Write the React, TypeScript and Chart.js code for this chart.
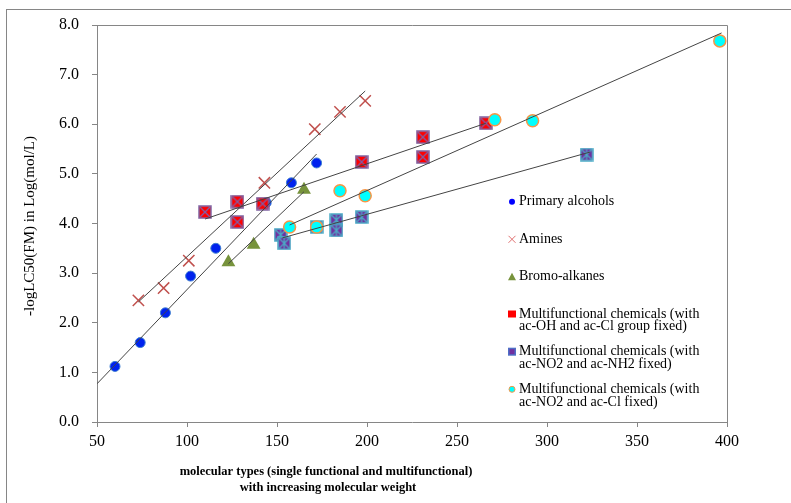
import React, { useEffect, useRef } from "react";
import { Chart, registerables } from "chart.js";
Chart.register(...registerables);

// ---- data ----
const alcoholX = [60, 74, 88, 102, 116, 144, 158, 172];
const alcoholY = [1.12, 1.6, 2.2, 2.94, 3.5, 4.42, 4.82, 5.22];
const amineX = [73, 87, 101, 143, 171, 185, 199];
const amineY = [2.45, 2.7, 3.25, 4.82, 5.9, 6.25, 6.47];
const bromoX = [123, 137, 165];
const bromoY = [3.22, 3.57, 4.68];
const ohClX = [110, 128, 128, 142, 197, 231, 231, 266];
const ohClY = [4.23, 4.44, 4.03, 4.4, 5.24, 5.74, 5.34, 6.02];
const no2nh2X = [152, 154, 172, 183, 183, 197, 322];
const no2nh2Y = [3.77, 3.6, 3.93, 4.07, 3.86, 4.13, 5.39];
const no2ClX = [157, 172, 185, 199, 271, 292, 396];
const no2ClY = [3.93, 3.93, 4.66, 4.56, 6.09, 6.07, 7.68];

// trend line end points
const alcoholFitX = [50, 172];
const alcoholFitY = [0.77, 5.4];
const amineFitX = [73, 199];
const amineFitY = [2.42, 6.67];
const bromoFitX = [123, 165];
const bromoFitY = [3.19, 4.64];
const ohClFitX = [110, 266];
const ohClFitY = [4.09, 6.02];
const no2nh2FitX = [153, 324];
const no2nh2FitY = [3.71, 5.44];
const no2ClFitX = [157, 397];
const no2ClFitY = [3.97, 7.84];

const legendLabels = [
  ["Primary alcohols"],
  ["Amines"],
  ["Bromo-alkanes"],
  ["Multifunctional chemicals (with", "ac-OH and ac-Cl group fixed)"],
  ["Multifunctional chemicals (with", "ac-NO2 and ac-NH2 fixed)"],
  ["Multifunctional chemicals (with", "ac-NO2 and ac-Cl fixed)"],
];
const xTitle = ["molecular types (single functional and multifunctional)", "with increasing molecular weight"];
const yTitle = "-logLC50(FM) in Log(mol/L)";

const pts = (xs: number[], ys: number[]) => xs.map((x, i) => ({ x, y: ys[i] }));

const SERIF = "'Liberation Serif', 'Times New Roman', serif";
const AXIS = "#868686";

function squareImg(fill: string, stroke: string, xColor: string, star: boolean) {
  const c = document.createElement("canvas");
  c.width = 14;
  c.height = 14;
  const g = c.getContext("2d")!;
  g.fillStyle = fill;
  g.fillRect(1, 1, 12, 12);
  g.strokeStyle = stroke;
  g.lineWidth = 1.5;
  g.strokeRect(1, 1, 12, 12);
  g.strokeStyle = xColor;
  g.lineWidth = 1.3;
  g.beginPath();
  g.moveTo(2, 2);
  g.lineTo(12, 12);
  g.moveTo(12, 2);
  g.lineTo(2, 12);
  if (star) {
    g.moveTo(7, 2);
    g.lineTo(7, 12);
  }
  g.stroke();
  return c;
}

const decoPlugin = {
  id: "deco",
  afterDraw(chart: any) {
    const ctx = chart.ctx as CanvasRenderingContext2D;
    const a = chart.chartArea;
    ctx.save();
    // outer frame
    ctx.strokeStyle = AXIS;
    ctx.lineWidth = 1;
    ctx.strokeRect(6.5, 9.5, 1000, 1000);
    // plot box
    ctx.beginPath();
    ctx.moveTo(a.left, a.top + 0.5);
    ctx.lineTo(a.right + 0.5, a.top + 0.5);
    ctx.lineTo(a.right + 0.5, a.bottom);
    ctx.stroke();

    // x title
    ctx.fillStyle = "#000";
    ctx.textAlign = "center";
    ctx.textBaseline = "middle";
    ctx.font = `bold 12.5px ${SERIF}`;
    ctx.fillText(xTitle[0], 326, 472);
    ctx.fillText(xTitle[1], 328, 488);

    // y title
    ctx.save();
    ctx.translate(30, 226);
    ctx.rotate(-Math.PI / 2);
    ctx.font = `15px ${SERIF}`;
    ctx.fillText(yTitle, 0, 0);
    ctx.restore();

    // legend
    const rows = [201.7, 239.3, 276.7, 314, 351.7, 389.3];
    const mx = 512;
    ctx.textAlign = "left";
    ctx.font = `14px ${SERIF}`;
    rows.forEach((y, i) => {
      legendLabels[i].forEach((t, j) => ctx.fillText(t, 519, y + j * 12.6));
      ctx.beginPath();
      if (i === 0) {
        ctx.fillStyle = "#0000ff";
        ctx.arc(mx, y, 3, 0, Math.PI * 2);
        ctx.fill();
      } else if (i === 1) {
        ctx.strokeStyle = "#e07070";
        ctx.lineWidth = 1;
        ctx.moveTo(mx - 3.5, y - 3.5);
        ctx.lineTo(mx + 3.5, y + 3.5);
        ctx.moveTo(mx + 3.5, y - 3.5);
        ctx.lineTo(mx - 3.5, y + 3.5);
        ctx.stroke();
      } else if (i === 2) {
        ctx.fillStyle = "#77933c";
        ctx.moveTo(mx, y - 4);
        ctx.lineTo(mx + 4, y + 3.5);
        ctx.lineTo(mx - 4, y + 3.5);
        ctx.closePath();
        ctx.fill();
      } else if (i === 3) {
        ctx.fillStyle = "#ff0000";
        ctx.fillRect(mx - 4, y - 3.5, 8, 7);
      } else if (i === 4) {
        ctx.fillStyle = "#4f6fc6";
        ctx.fillRect(mx - 4, y - 4, 8, 8);
        ctx.fillStyle = "#7030a0";
        ctx.fillRect(mx - 2.5, y - 2.5, 5, 5);
      } else {
        ctx.fillStyle = "#00ffff";
        ctx.strokeStyle = "#f79646";
        ctx.lineWidth = 1;
        ctx.arc(mx, y, 3, 0, Math.PI * 2);
        ctx.fill();
        ctx.stroke();
      }
      ctx.fillStyle = "#000";
    });
    ctx.restore();
  },
};

export default function App() {
  const ref = useRef<HTMLCanvasElement>(null);
  useEffect(() => {
    const redSq = squareImg("#ff0000", "#8064a2", "#7f5fa8", false);
    const purSq = squareImg("#7030a0", "#4bacc6", "#4bacc6", true);
    const line = (xs: number[], ys: number[]) => ({
      type: "line" as const,
      data: pts(xs, ys),
      showLine: true,
      borderColor: "#444444",
      borderWidth: 1,
      pointRadius: 0,
      fill: false,
      order: 0,
    });
    const chart = new Chart(ref.current!, {
      type: "scatter",
      data: {
        datasets: [
          line(alcoholFitX, alcoholFitY),
          line(amineFitX, amineFitY),
          line(bromoFitX, bromoFitY),
          line(ohClFitX, ohClFitY),
          line(no2nh2FitX, no2nh2FitY),
          line(no2ClFitX, no2ClFitY),
          {
            label: "Multifunctional chemicals (with ac-NO2 and ac-Cl fixed)",
            data: pts(no2ClX, no2ClY),
            pointStyle: "circle",
            pointRadius: 6,
            backgroundColor: "#00ffff",
            borderColor: "#f79646",
            borderWidth: 1.5,
            order: 1,
          } as any,
          {
            label: "Multifunctional chemicals (with ac-NO2 and ac-NH2 fixed)",
            data: pts(no2nh2X, no2nh2Y),
            pointStyle: purSq,
            order: 2,
          } as any,
          {
            label: "Multifunctional chemicals (with ac-OH and ac-Cl group fixed)",
            data: pts(ohClX, ohClY),
            pointStyle: redSq,
            order: 3,
          } as any,
          {
            label: "Bromo-alkanes",
            data: pts(bromoX, bromoY),
            pointStyle: "triangle",
            pointRadius: 8,
            backgroundColor: "#77933c",
            borderColor: "#77933c",
            borderWidth: 0,
            order: 4,
          } as any,
          {
            label: "Amines",
            data: pts(amineX, amineY),
            pointStyle: "crossRot",
            pointRadius: 8,
            borderColor: "#c0504d",
            borderWidth: 1.5,
            order: 5,
          } as any,
          {
            label: "Primary alcohols",
            data: pts(alcoholX, alcoholY),
            pointStyle: "circle",
            pointRadius: 5,
            backgroundColor: "#0022ee",
            borderColor: "#3f7fd0",
            borderWidth: 1,
            order: 6,
          } as any,
        ],
      },
      options: {
        animation: false,
        responsive: false,
        devicePixelRatio: 1,
        layout: { padding: { top: 25, right: 64, left: 0, bottom: 0 } },
        plugins: { legend: { display: false }, tooltip: { enabled: false } },
        scales: {
          x: {
            type: "linear",
            min: 50,
            max: 400,
            ticks: {
              stepSize: 50,
              color: "#000",
              font: { family: SERIF, size: 16 },
              padding: 5,
              maxRotation: 0,
            },
            grid: { drawOnChartArea: false, drawTicks: true, tickLength: 5, color: AXIS },
            border: { color: AXIS },
            afterFit: (s: any) => {
              s.height = 81;
            },
          },
          y: {
            type: "linear",
            min: 0,
            max: 8,
            ticks: {
              stepSize: 1,
              color: "#000",
              font: { family: SERIF, size: 16 },
              padding: 13,
              callback: (v: any) => Number(v).toFixed(1),
            },
            grid: { drawOnChartArea: false, drawTicks: true, tickLength: 5, color: AXIS },
            border: { color: AXIS },
            afterFit: (s: any) => {
              s.width = 97;
            },
          },
        },
      },
      plugins: [decoPlugin],
    });
    return () => chart.destroy();
  }, []);
  return (
    <div style={{ position: "absolute", left: 0, top: 0, width: 791, height: 503, background: "#fff" }}>
      <canvas ref={ref} width={791} height={503} />
    </div>
  );
}
